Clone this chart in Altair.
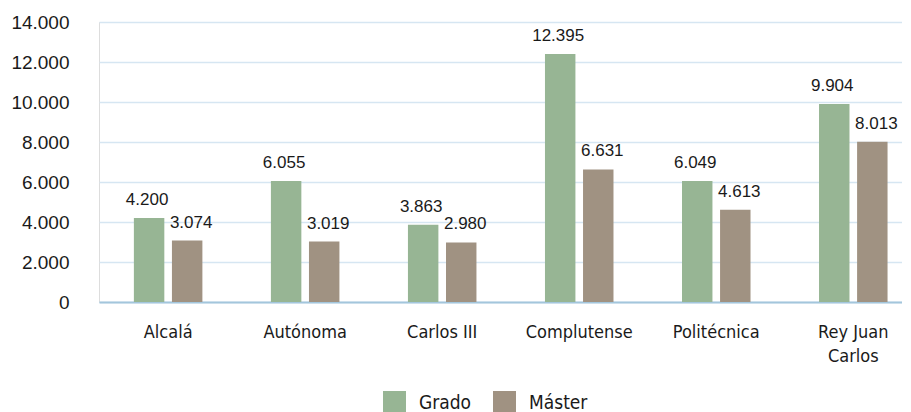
import altair as alt
import pandas as pd

universidades = ["Alcalá", "Autónoma", "Carlos III", "Complutense", "Politécnica", "Rey Juan Carlos"]
grado = [4200, 6055, 3863, 12395, 6049, 9904]
master = [3074, 3019, 2980, 6631, 4613, 8013]
series = ["Grado", "Máster"]
colores = ["#97b594", "#a09282"]
ticks_y = [0, 2000, 4000, 6000, 8000, 10000, 12000, 14000]

rows = []
for u, g, m in zip(universidades, grado, master):
    rows.append({"uni": u, "serie": "Grado", "valor": g})
    rows.append({"uni": u, "serie": "Máster", "valor": m})
df = pd.DataFrame(rows)
df["etiqueta"] = df["valor"].map(lambda v: f"{v:,}".replace(",", "."))

FONT = "'Liberation Sans Narrow', 'DejaVu Sans Condensed', Roboto, sans-serif"
NUMFONT = "'Liberation Sans', Arial, sans-serif"

xscale = alt.Scale(paddingInner=0.5, paddingOuter=0.18, align=0.707)
xoff = alt.Scale(paddingInner=0.2, paddingOuter=0.0)

base = alt.Chart(df).encode(
    x=alt.X("uni:N", sort=universidades, scale=xscale,
            axis=alt.Axis(title=None, labelAngle=0, ticks=False, domain=True,
                          domainColor="#a3c6dc", domainWidth=2, grid=False,
                          labelFont=FONT, labelFontSize=18, labelColor="#1a1a1a",
                          labelPadding=21, labelLineHeight=24,
                          labelExpr="datum.value == 'Rey Juan Carlos' ? ['Rey Juan', 'Carlos'] : datum.value")),
    xOffset=alt.XOffset("serie:N", sort=series, scale=xoff),
    y=alt.Y("valor:Q", scale=alt.Scale(domain=[0, 14000]),
            axis=alt.Axis(title=None, values=ticks_y,
                          labelExpr="replace(format(datum.value, ','), ',', '.')",
                          ticks=False, domain=False, gridColor="#d6e6f2", gridWidth=1.5,
                          labelOverlap=False, labelBound=False, labelFlush=False,
                          labelFont=NUMFONT, labelFontSize=19, labelColor="#1a1a1a",
                          labelPadding=30)),
)

bars = base.mark_bar().encode(
    color=alt.Color("serie:N", sort=series, scale=alt.Scale(domain=series, range=colores),
                    legend=alt.Legend(title=None, orient="none", legendX=284, legendY=369,
                                      direction="horizontal", symbolType="square",
                                      symbolSize=529, symbolStrokeWidth=0, symbolOpacity=1,
                                      labelFont=FONT, labelFontSize=19, labelColor="#1a1a1a",
                                      labelOffset=13, columnPadding=21)),
)

txt_g = base.transform_filter(alt.datum.serie == "Grado").mark_text(
    baseline="bottom", dy=-9, dx=-2, font=NUMFONT, fontSize=17, color="#1a1a1a"
).encode(text="etiqueta:N")

txt_m = base.transform_filter(alt.datum.serie == "Máster").mark_text(
    baseline="bottom", dy=-9, dx=4, font=NUMFONT, fontSize=17, color="#1a1a1a"
).encode(text="etiqueta:N")

chart = alt.layer(bars, txt_g, txt_m).properties(
    width=803, height=280,
    padding={"top": 5, "left": 2, "right": 0, "bottom": 0},
).configure_view(stroke=None).configure(background="white")

chart.save("out.html", embed_options={"renderer": "svg", "actions": False})
